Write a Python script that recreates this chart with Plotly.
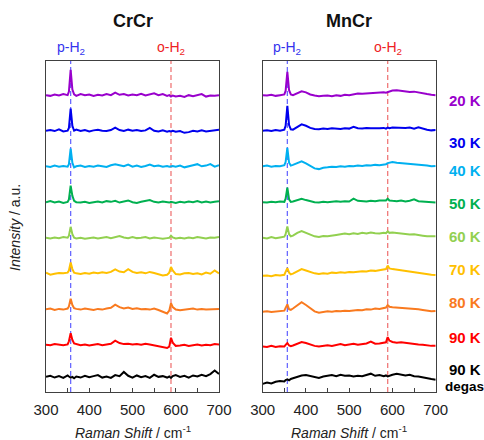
import plotly.graph_objects as go

# Raman shift sampling grid (cm^-1), denser around the H2 lines
raman_shift = [300, 310, 320, 330, 340, 350, 353, 357, 361, 365, 370, 380, 390, 400,
               410, 420, 430, 440, 450, 460, 470, 480, 490, 500, 510, 520, 530, 540,
               550, 560, 570, 580, 585, 589, 593, 600, 610, 620, 630, 640, 650, 660,
               670, 680, 690, 700]

temperatures = ["20 K", "30 K", "40 K", "50 K", "60 K", "70 K", "80 K", "90 K", "90 K"]
colors = ["#9900CC", "#0000EE", "#00B0F0", "#00B050", "#92D050",
          "#FFC000", "#F97A1F", "#FF0000", "#000000"]

p_h2 = 357   # para-H2 rotational line
o_h2 = 589   # ortho-H2 rotational line

# CrCr spectra (a.u.)
crcr_20K = [0, -2, 2, -1, 3, 0, 10, 72, 16, 2, -2, 3, 0, 2, -2, 1, -1, 3, 0, 7, 1, 3, -1,
            2, 0, 4, -1, 2, 5, 0, 3, -2, 0, -4, -1, -4, -2, -5, 0, -3, -1, 3, -4, -1, -2, 0]
crcr_30K = [0, 2, -1, 4, -2, 0, 8, 63, 14, 0, 3, -1, 2, -2, 1, 3, 0, -1, 2, 9, 2, -1, 3,
            0, 2, -1, 1, 8, 0, -2, 1, -3, -1, -2, 0, -3, -1, -6, -4, 0, -2, 1, -2, 0, 2, 3]
crcr_40K = [0, -2, 2, -1, 1, -1, 6, 50, 10, -3, 0, 2, -2, 1, -1, 2, 0, -2, 3, 6, 3, 0, 5,
            -1, 2, -2, 1, 5, 0, 2, -1, 1, -1, 0, 1, -1, 2, -3, -1, 3, 6, 0, 2, 6, -1, 3]
crcr_50K = [0, 3, -1, 2, -2, 1, 8, 47, 18, 4, 0, -1, 1, -2, 0, 2, -1, 3, 1, 4, -1, 2, 5,
            0, -2, 1, 3, 6, 1, -1, 2, 0, -1, 1, 0, -2, 1, -1, 2, 0, 3, -1, 2, -1, 1, 3]
crcr_60K = [0, -2, 1, -1, 2, 0, 6, 31, 10, 0, -2, 0, -3, -1, 1, -2, 0, 2, -1, 3, 5, 1, -1,
            2, -1, 0, 2, -2, 1, -1, -3, -1, 0, 6, 1, -2, 0, -2, 1, -1, 2, 0, -2, 1, 0, 2]
crcr_70K = [2, -4, -1, 1, 0, 2, 8, 31, 12, 2, 0, -2, 1, -1, 2, 0, 3, 1, 4, 11, 5, 3, 12,
            4, 1, 3, 0, 4, 1, -3, -6, -4, 2, 18, 8, -2, -3, 0, 1, -2, 0, -3, 2, -1, 8, 0]
crcr_80K = [0, 2, -2, 1, -1, 2, 8, 30, 12, 3, 1, -1, 2, 0, -2, 1, -1, 2, 4, 13, 6, 2, 5,
            1, 3, 0, 1, -1, 2, -2, -6, -12, -4, 17, 6, -1, -3, -1, 0, 2, -1, 1, -1, 0, 2, 1]
crcr_90K = [0, -1, 2, 0, -1, 1, 10, 33, 14, 4, 2, -1, 1, -2, 0, 2, -1, 1, 3, 12, 5, 2, 3,
            1, 2, 0, 3, 1, -1, -3, -6, -9, -5, 20, 6, -3, -2, 0, -3, -1, 1, -2, 0, -1, 2, 1]
crcr_90K_degas = [0, 3, -2, 2, -3, 4, 1, -2, 0, -4, 1, -2, 3, -1, 2, 5, -2, 1, -3, 5, 2, 14,
                  3, -2, 4, -1, 2, -3, 6, 0, 2, -2, 1, -3, 2, 5, 0, 3, -2, 4, 1, 6, 2, 8, 18, 8]

# MnCr spectra (a.u.)
mncr_20K = [0, -1, 1, -2, 0, 2, 12, 66, 14, 2, 0, 5, 11, 8, 2, -1, -3, -2, -1, -3, 0, -2, 1,
            0, 3, 5, 4, 5, 6, 5, 7, 8, 7, 9, 10, 13, 14, 12, 10, 9, 10, 7, 5, 3, 1, 0]
mncr_30K = [0, 1, -1, 2, 0, 3, 14, 71, 16, 4, 3, 10, 18, 14, 8, 5, 4, 6, 5, 7, 6, 5, 7,
            6, 11, 7, 6, 8, 7, 6, 7, 8, 6, 9, 7, 9, 8, 7, 8, 9, 6, 10, 6, 3, 1, 2]
mncr_40K = [0, 2, -1, 1, 0, 3, 12, 52, 10, 2, 4, 9, 14, 8, 1, -6, -8, -4, -3, -1, -2, 0, -1,
            1, 0, 2, 1, 3, 2, 4, 3, 5, 6, 9, 10, 12, 10, 9, 7, 8, 6, 5, 4, 2, 0, 1]
mncr_50K = [0, -1, 1, 0, 2, 1, 10, 41, 8, 1, 2, 6, 10, 6, 2, 0, -1, 1, 0, 2, 3, 1, 3,
            2, 10, 4, 3, 2, 4, 3, 5, 4, 5, 10, 5, 4, 3, 5, 2, 4, 8, 3, 2, 1, 0, -1]
mncr_60K = [0, -2, 2, -1, 1, 3, 10, 32, 10, 4, 6, 14, 19, 14, 8, 4, 2, 5, 4, 7, 8, 10, 12,
            10, 13, 11, 14, 12, 15, 13, 12, 14, 13, 18, 14, 15, 13, 12, 11, 9, 10, 7, 6, 4, 3, 4]
mncr_70K = [-7, -6, -8, -5, -6, -4, 4, 15, 2, -3, -1, 6, 12, 8, 3, 0, -2, 0, -1, 2, 1, 3, 2,
            4, 3, 5, 6, 5, 8, 7, 9, 10, 12, 22, 14, 12, 10, 8, 7, 5, 4, 2, 0, -3, -4, -5]
mncr_80K = [-7, -6, -8, -6, -5, -4, 4, 14, 0, -2, 2, 10, 20, 12, 2, -6, -10, -8, -6, -7, -5, -6, -4,
            -5, -3, -2, -3, 0, -1, 2, 1, 4, 5, 12, 7, 6, 5, 6, 4, 3, 2, 0, -2, -4, -6, -5]
mncr_90K = [-5, -6, -3, -6, -4, -5, 0, 5, -2, -4, -2, 4, 8, 5, 0, -3, -5, -3, -1, -3, 0, 2, -1,
            1, 3, 0, 2, 4, 9, 3, 4, 6, 7, 22, 12, 8, 6, 7, 5, 4, 3, 1, 0, -2, -3, -3]
mncr_90K_degas = [-20, -16, -19, -14, -12, -13, -9, -7, -10, -6, -4, 0, 4, 5, 2, 0, -3, 1, 3, 5, 2, 6,
                  3, 4, 1, 3, 2, 5, 9, 3, 5, 2, 4, 1, 3, 6, 9, 7, 4, 6, 2, 1, -2, -4, -6, -8]

crcr = [crcr_20K, crcr_30K, crcr_40K, crcr_50K, crcr_60K, crcr_70K, crcr_80K, crcr_90K, crcr_90K_degas]
mncr = [mncr_20K, mncr_30K, mncr_40K, mncr_50K, mncr_60K, mncr_70K, mncr_80K, mncr_90K, mncr_90K_degas]

# vertical stacking offsets for each temperature
offsets = [800, 699, 598, 496, 395, 294, 192, 91, 0]

fig = go.Figure()
for spectra, xa, ya in [(crcr, "x", "y"), (mncr, "x2", "y2")]:
    for spec, off, col, name in zip(spectra, offsets, colors, temperatures):
        fig.add_trace(go.Scatter(
            x=raman_shift, y=[v + off for v in spec], mode="lines",
            line=dict(color=col, width=2), xaxis=xa, yaxis=ya,
            name=name, showlegend=False, hoverinfo="skip"))

FONT = "Liberation Sans, Arial, sans-serif"
axis_common = dict(range=[300, 700], dtick=100, ticks="inside", ticklen=4,
                   tickcolor="#404040", showline=True, linecolor="#404040", linewidth=1.2,
                   mirror=True, showgrid=False, zeroline=False, automargin=False,
                   ticklabelstandoff=4,
                   tickfont=dict(family=FONT, size=15, color="#222"),
                   minor=dict(dtick=50, ticks="inside", ticklen=4, tickcolor="#404040"))
yaxis_common = dict(range=[-43, 897], showticklabels=False, ticks="", showline=True,
                    linecolor="#404040", linewidth=1.2, mirror=True, automargin=False,
                    showgrid=False, zeroline=False)

y_dom = [1 - 392 / 440, 1 - 61 / 440]
fig.update_layout(
    width=484, height=440, autosize=False,
    margin=dict(l=0, r=0, t=0, b=0, pad=0, autoexpand=False),
    plot_bgcolor="white", paper_bgcolor="white",
    xaxis=dict(domain=[46 / 484, 219 / 484], anchor="y", **axis_common),
    xaxis2=dict(domain=[262.7 / 484, 435.7 / 484], anchor="y2", **axis_common),
    yaxis=dict(domain=y_dom, anchor="x", **yaxis_common),
    yaxis2=dict(domain=y_dom, anchor="x2", **yaxis_common),
)


def py(px):
    """paper y from a pixel row"""
    return 1 - px / 440


# reference lines for para- and ortho-H2
for xa, ya in [("x", "y"), ("x2", "y2")]:
    fig.add_shape(type="line", xref=xa, yref=f"{ya} domain", x0=p_h2, x1=p_h2, y0=0, y1=1,
                  line=dict(color="#6A6AFF", width=1.3, dash="5px,3px"), layer="below")
    fig.add_shape(type="line", xref=xa, yref=f"{ya} domain", x0=o_h2, x1=o_h2, y0=0, y1=1,
                  line=dict(color="#F07878", width=1.3, dash="5px,3px"), layer="below")
    fig.add_annotation(x=p_h2, xref=xa, y=py(48), yref="paper", text="p-H<sub>2</sub>",
                       showarrow=False, xanchor="center", yanchor="middle",
                       font=dict(family=FONT, size=14, color="#3333EE"))
    fig.add_annotation(x=o_h2, xref=xa, y=py(48), yref="paper", text="o-H<sub>2</sub>",
                       showarrow=False, xanchor="center", yanchor="middle",
                       font=dict(family=FONT, size=14, color="#EE2222"))
    fig.add_annotation(x=0.5, xref=f"{xa} domain", y=py(432), yref="paper",
                       text="<i>Raman Shift</i> / cm<sup>-1</sup>", showarrow=False,
                       xanchor="center", yanchor="middle",
                       font=dict(family=FONT, size=14, color="#222"))

# panel titles
for xa, title in [("x", "CrCr"), ("x2", "MnCr")]:
    fig.add_annotation(x=0.5, xref=f"{xa} domain", y=py(21), yref="paper",
                       text=f"<b>{title}</b>", showarrow=False,
                       xanchor="center", yanchor="middle",
                       font=dict(family=FONT, size=18, color="#111"))

# shared y title
fig.add_annotation(x=15 / 484, xref="paper", y=py(228), yref="paper",
                   text="<i>Intensity</i> / a.u.", textangle=-90, showarrow=False,
                   xanchor="center", yanchor="middle",
                   font=dict(family=FONT, size=14, color="#222"))

# temperature labels at the right
label_px = [101, 142, 170, 203, 236, 269, 302, 337, 369]
for name, col, row in zip(temperatures, colors, label_px):
    fig.add_annotation(x=447 / 484, xref="paper", y=py(row), yref="paper",
                       text=f"<b>{name}</b>", showarrow=False, xanchor="left", yanchor="middle",
                       font=dict(family=FONT, size=15, color=col))
fig.add_annotation(x=464 / 484, xref="paper", y=py(386), yref="paper",
                   text="<b>degas</b>", showarrow=False, xanchor="center", yanchor="middle",
                   font=dict(family=FONT, size=13.5, color=colors[-1]))

fig.write_html("out.html", config={"responsive": False},
               post_script="document.body.style.margin='0';")
